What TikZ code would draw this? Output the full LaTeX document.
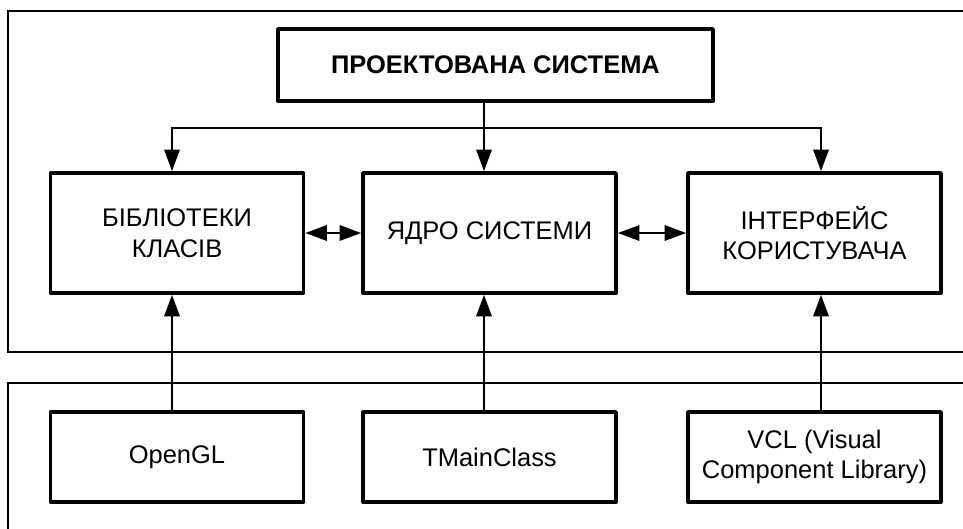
\documentclass[tikz,border=0pt]{standalone}
\usepackage{fontspec}
\setmainfont{Liberation Sans}
\usetikzlibrary{arrows.meta}

\begin{document}
\begin{tikzpicture}[
        x=0.02cm,y=-0.02cm,
        every node/.style={rectangle,draw,line width=2.2pt,line join=round,align=center,
            inner sep=2pt,font=\fontsize{14.5}{17.5}\selectfont},
        unit/.style={minimum width=5.06cm,minimum height=2.4cm},
        base/.style={minimum width=5.06cm,minimum height=1.8cm},
        line width=1pt,>={Triangle[length=4.3mm,width=3.1mm]}
    ]
        \clip (0,0) rectangle (963,528);
        \draw (8,11) rectangle (1000,352);
        \draw (8,383) rectangle (1000,600);

        \node (sys) at (495.5,65) [minimum width=8.7cm,minimum height=1.44cm,
            font=\fontsize{14.5}{17.5}\selectfont\bfseries] {ПРОЕКТОВАНА СИСТЕМА};
        \node (lib) at (177,233) [unit] {БІБЛІОТЕКИ\\КЛАСІВ};
        \node (core) at (489.5,233) [unit] {ЯДРО СИСТЕМИ};
        \node (ui) at (814.5,233) [unit] {ІНТЕРФЕЙС\\КОРИСТУВАЧА};
        \node (ogl) at (177,457) [base] {OpenGL};
        \node (tmc) at (489.5,457) [base] {TMainClass};
        \node (vcl) at (814.5,457) [base] {VCL (Visual\\Component Library)};

        \coordinate (fork) at (484,128);
        \draw (sys.south -| fork) -- (fork);
        \draw[->] (fork) -- (fork |- core.north);
        \draw[->] (fork) -| ([xshift=-0.1cm]lib.north);
        \draw[->] (fork) -| ([xshift=0.13cm]ui.north);
        \draw[<->] (lib) -- (core);
        \draw[<->] (core) -- (ui);
        \draw[->] ([xshift=-0.1cm]ogl.north) -- ([xshift=-0.1cm]lib.south);
        \draw[->] (tmc.north -| fork) -- (core.south -| fork);
        \draw[->] ([xshift=0.13cm]vcl.north) -- ([xshift=0.13cm]ui.south);
    \end{tikzpicture}
\end{document}
